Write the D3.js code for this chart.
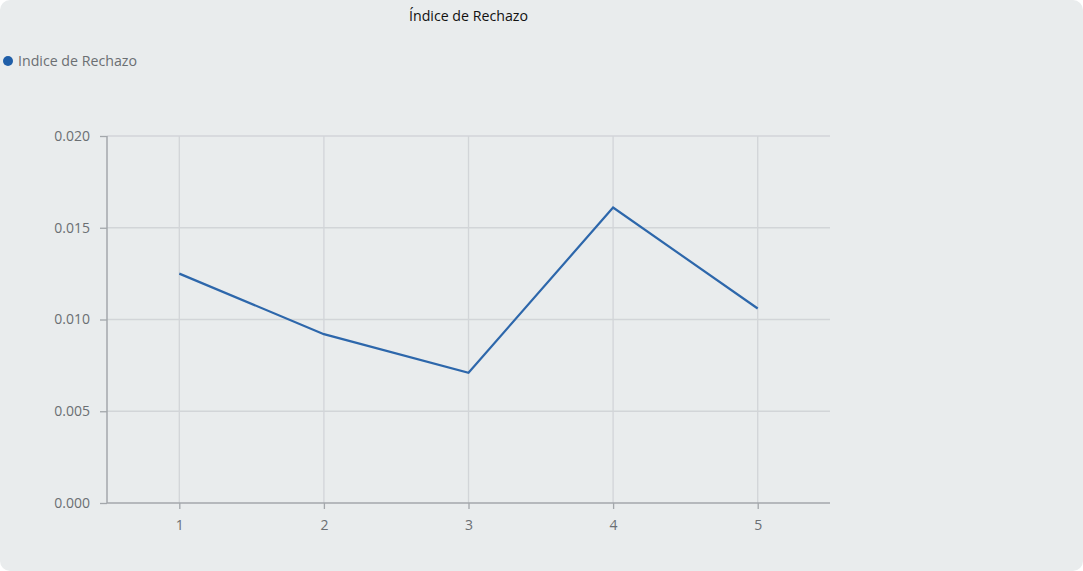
<!DOCTYPE html>
<html>
<head>
<meta charset="utf-8">
<script src="https://cdn.jsdelivr.net/npm/d3@7"></script>
<style>
  html, body { margin: 0; padding: 0; background: #ffffff; }
  svg { display: block; font-family: "Open Sans", "Noto Sans", sans-serif; }
</style>
</head>
<body>
<svg id="chart" width="1083" height="571"></svg>
<script>
// Rejection index per sample
const categories = ["1", "2", "3", "4", "5"];
const values = [0.0125, 0.0092, 0.0071, 0.0161, 0.0106];
const yTicks = [0.000, 0.005, 0.010, 0.015, 0.020];
const title = "Índice de Rechazo";
const seriesName = "Indice de Rechazo";

const W = 1083, H = 571;
const margin = { top: 136, right: 253, bottom: 68, left: 107 };
const innerW = W - margin.left - margin.right;
const innerH = H - margin.top - margin.bottom;
const lineColor = "#2d67ab";
const font = "'Open Sans', 'Noto Sans', sans-serif";

const svg = d3.select("#chart");

svg.append("rect")
  .attr("x", 0).attr("y", 0).attr("width", W).attr("height", H)
  .attr("rx", 10).attr("ry", 10)
  .attr("fill", "#e9eced");

const x = d3.scalePoint().domain(categories).range([0, innerW]).padding(0.5);
const y = d3.scaleLinear().domain([0, 0.02]).range([innerH, 0]);

const g = svg.append("g").attr("transform", `translate(${margin.left},${margin.top})`);

// horizontal grid
g.append("g")
  .selectAll("line")
  .data(yTicks.filter(d => d > 0))
  .join("line")
  .attr("x1", 0).attr("x2", innerW)
  .attr("y1", d => y(d)).attr("y2", d => y(d))
  .attr("stroke", "#d2d5d8").attr("stroke-width", 1.3);

// vertical grid
g.append("g")
  .selectAll("line")
  .data(categories)
  .join("line")
  .attr("x1", d => x(d)).attr("x2", d => x(d))
  .attr("y1", 0).attr("y2", innerH)
  .attr("stroke", "#d2d5d8").attr("stroke-width", 1.3);

// y axis
const yAxis = g.append("g")
  .call(d3.axisLeft(y).tickValues(yTicks).tickFormat(d3.format(".3f")).tickSize(7).tickPadding(10))
  .attr("font-family", font).attr("font-size", 14);
yAxis.select(".domain").attr("stroke", "#a3a7ab").attr("stroke-width", 1.5).attr("d", `M0,0V${innerH}`);
yAxis.selectAll(".tick line").attr("stroke", "#a3a7ab").attr("stroke-width", 1.3);
yAxis.selectAll("text").attr("fill", "#6b6f73");

// x axis
const xAxis = g.append("g")
  .attr("transform", `translate(0,${innerH})`)
  .call(d3.axisBottom(x).tickSize(6).tickPadding(11))
  .attr("font-family", font).attr("font-size", 14);
xAxis.select(".domain").attr("stroke", "#a3a7ab").attr("stroke-width", 1.5).attr("d", `M0,0H${innerW}`);
xAxis.selectAll(".tick line").attr("stroke", "#a3a7ab").attr("stroke-width", 1.3);
xAxis.selectAll("text").attr("fill", "#6b6f73");

// series line
const line = d3.line()
  .x((d, i) => x(categories[i]))
  .y(d => y(d));

g.append("path")
  .datum(values)
  .attr("d", line)
  .attr("fill", "none")
  .attr("stroke", lineColor)
  .attr("stroke-width", 2.2)
  .attr("stroke-linejoin", "miter");

// title
svg.append("text")
  .attr("x", margin.left + innerW / 2)
  .attr("y", 21)
  .attr("text-anchor", "middle")
  .attr("font-size", 14.2)
  .attr("fill", "#111")
  .text(title);

// legend
const legend = svg.append("g").attr("transform", "translate(8,61)");
legend.append("circle").attr("r", 5).attr("fill", "#1f5ea8");
legend.append("text")
  .attr("x", 10).attr("y", 5)
  .attr("font-size", 14.2)
  .attr("fill", "#6b6f73")
  .text(seriesName);
</script>
</body>
</html>
